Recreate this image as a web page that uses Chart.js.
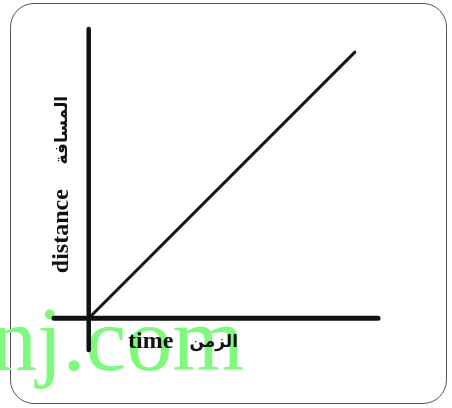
<!DOCTYPE html>
<html>
<head>
<meta charset="utf-8">
<script src="https://cdn.jsdelivr.net/npm/chart.js@4"></script>
<style>
    html, body { margin: 0; padding: 0; background: #fff; }
    #wrap { position: relative; width: 452px; height: 408px; overflow: hidden; }
    #frame {
        position: absolute; left: 10px; top: 3px; width: 435px; height: 399px;
        border: 1.5px solid #555; border-radius: 24px;
    }
    canvas { position: absolute; left: 0; top: 0; }
</style>
</head>
<body>
<div id="wrap">
    <div id="frame"></div>
    <canvas id="chart" width="452" height="408"></canvas>
</div>
<script>
// Distance-time graph: straight line through the origin

const timeValues = [0, 9.2];
const distanceValues = [0, 9.2];
const timeAxisRange = [-1.2, 10];
const distanceAxisRange = [-1.1, 10];

const yTitle = ['distance', 'المسافة'];
const xTitle = ['time', 'الزمن'];
const watermark = 'nj.com';

const latinFont = "bold 24px 'Liberation Serif', serif";
const arabicFont = "bold 17px 'DejaVu Sans', sans-serif";

// Labels and watermark drawn over the plot
const labelsPlugin = {
    id: 'axisLabels',
    afterDraw(chart) {
        const ctx = chart.ctx;
        const x = chart.scales.x, y = chart.scales.y;
        const ox = x.getPixelForValue(0), oy = y.getPixelForValue(0);

        ctx.save();
        ctx.fillStyle = '#111';
        ctx.textBaseline = 'middle';
        ctx.textAlign = 'center';

        // y title, rotated
        ctx.save();
        ctx.translate(ox - 27, oy);
        ctx.rotate(-Math.PI / 2);
        ctx.font = latinFont;
        ctx.fillText(yTitle[0], 87, 0);
        ctx.font = arabicFont;
        ctx.fillText(yTitle[1], 188, 1);
        ctx.restore();

        // x title
        ctx.font = latinFont;
        ctx.fillText(xTitle[0], ox + 62, oy + 24);
        ctx.font = arabicFont;
        ctx.fillText(xTitle[1], ox + 125, oy + 24);

        // watermark
        ctx.globalCompositeOperation = 'multiply';
        ctx.fillStyle = '#7ef97e';
        ctx.font = "92px 'Liberation Serif', serif";
        ctx.textAlign = 'right';
        ctx.textBaseline = 'alphabetic';
        ctx.fillText(watermark, 244, 370);
        ctx.restore();
    }
};

new Chart(document.getElementById('chart'), {
    type: 'scatter',
    data: {
        datasets: [
            {
                label: 'time axis',
                data: timeAxisRange.map(v => ({ x: v, y: 0 })),
                showLine: true,
                borderColor: '#111',
                borderWidth: 5,
                borderCapStyle: 'round',
                pointRadius: 0,
                clip: false
            },
            {
                label: 'distance axis',
                data: distanceAxisRange.map(v => ({ x: 0, y: v })),
                showLine: true,
                borderColor: '#111',
                borderWidth: 4.5,
                borderCapStyle: 'round',
                pointRadius: 0,
                clip: false
            },
            {
                label: 'distance',
                data: timeValues.map((t, i) => ({ x: t, y: distanceValues[i] })),
                showLine: true,
                borderColor: '#151515',
                borderWidth: 3,
                borderCapStyle: 'round',
                pointRadius: 0,
                clip: false
            }
        ]
    },
    options: {
        responsive: false,
        animation: false,
        layout: { padding: { left: 54, right: 74, top: 29, bottom: 58 } },
        scales: {
            x: { type: 'linear', display: false, min: timeAxisRange[0], max: timeAxisRange[1] },
            y: { type: 'linear', display: false, min: distanceAxisRange[0], max: distanceAxisRange[1] }
        },
        plugins: {
            legend: { display: false },
            tooltip: { enabled: false }
        }
    },
    plugins: [labelsPlugin]
});
</script>
</body>
</html>
